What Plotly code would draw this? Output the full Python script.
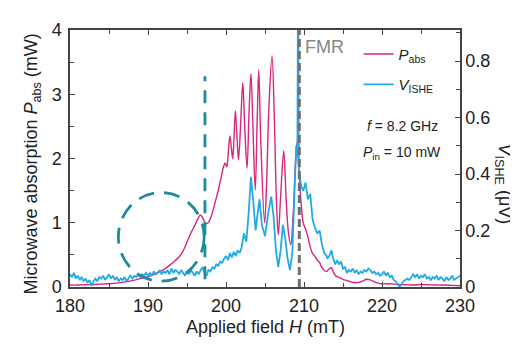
import numpy as np
import plotly.graph_objects as go

# ---------------- data ----------------
# Microwave absorption P_abs (mW) vs applied field H (mT)
H_abs = [180.0, 181, 182, 183, 184, 185, 186, 187, 188, 189, 190, 191, 192, 193, 194, 194.5,
         195, 195.5, 196, 196.4, 196.7, 197.0, 197.4, 197.7, 198.1, 198.5, 199.0, 199.4, 199.7,
         199.9, 200.1, 200.3, 200.5, 200.7, 200.85, 201.0, 201.2, 201.4, 201.6, 201.9, 202.15,
         202.4, 202.7, 202.95, 203.2, 203.45, 203.75, 204.0, 204.2, 204.45, 204.95, 205.2, 205.5,
         205.9, 206.2, 206.45, 206.7, 207.0, 207.4, 207.7, 208.0, 208.3, 208.6, 208.9, 209.1,
         209.3, 209.6, 209.9, 210.2, 210.5, 210.8, 211.1, 211.4, 211.7, 212.0, 212.3, 212.6,
         212.9, 213.2, 213.5, 213.8, 214.1, 214.5, 215, 215.5, 216, 216.5, 217, 217.5, 218,
         218.5, 219, 219.5, 220, 221, 222, 223, 224, 225, 226, 227, 228, 229, 230]
P_abs = [0.03, 0.03, 0.035, 0.04, 0.045, 0.05, 0.06, 0.08, 0.10, 0.13, 0.16, 0.21, 0.27, 0.36, 0.47, 0.56,
         0.70, 0.84, 0.96, 1.06, 1.12, 1.08, 0.99, 1.00, 1.10, 1.27, 1.50, 1.72, 1.88,
         1.93, 1.87, 2.10, 2.35, 2.15, 2.00, 2.25, 2.74, 2.35, 1.98, 2.60, 3.18,
         2.50, 1.85, 2.70, 3.32, 2.50, 1.51, 2.60, 3.38, 2.30, 1.00, 1.60, 2.80,
         3.60, 2.60, 1.40, 0.81, 1.40, 2.12, 1.40, 0.85, 0.66, 1.10, 1.90, 2.25,
         1.90, 1.35, 1.00, 0.90, 0.78, 0.62, 0.52, 0.48, 0.42, 0.38, 0.30, 0.26,
         0.24, 0.28, 0.30, 0.22, 0.17, 0.15, 0.12, 0.10, 0.08, 0.07, 0.07, 0.09, 0.12,
         0.11, 0.08, 0.06, 0.05, 0.05, 0.04, 0.035, 0.03, 0.04, 0.035, 0.03, 0.03, 0.025, 0.02]

# ISHE voltage V_ISHE (uV) vs H (mT)
H_v_base = list(np.arange(180.0, 202.001, 0.25))
V_base = [0.045,
          0.035, 0.05, 0.03, 0.04,
          0.025, 0.035, 0.02, 0.03,
          0.015, 0.025, 0.005, 0.02,
          0.03, 0.02, 0.035, 0.03,
          0.04, 0.025, 0.035, 0.045,
          0.03, 0.04, 0.025, 0.035,
          0.02, 0.03, 0.025, 0.035,
          0.02, 0.03, 0.04, 0.03,
          0.04, 0.035, 0.045, 0.035,
          0.045, 0.04, 0.05, 0.04,
          0.05, 0.04, 0.055, 0.045,
          0.05, 0.06, 0.045, 0.055,
          0.05, 0.06, 0.045, 0.065,
          0.05, 0.06, 0.055, 0.045,
          0.06, 0.05, 0.04, 0.055,
          0.045, 0.06, 0.05, 0.04,
          0.055, 0.045, 0.06, 0.07,
          0.05, 0.04, 0.06, 0.055,
          0.07, 0.065, 0.08, 0.075,
          0.09, 0.085, 0.10, 0.11,
          0.095, 0.12, 0.105, 0.125,
          0.11, 0.13, 0.12, 0.14]
H_v_mid = [202.3, 202.6, 202.9, 203.2, 203.5, 203.8, 204.05, 204.3, 204.6, 205.0, 205.4, 205.8,
           206.1, 206.4, 206.7, 207.0, 207.3, 207.6, 207.9, 208.2, 208.5, 208.8, 209.0, 209.15,
           209.25, 209.35, 209.6, 209.9, 210.2, 210.5, 210.8, 211.1, 211.4, 211.7, 212.0, 212.3,
           212.6, 212.9, 213.0]
V_mid = [0.19, 0.16, 0.26, 0.39, 0.30, 0.20, 0.26, 0.31, 0.22, 0.18, 0.26, 0.32,
         0.25, 0.13, 0.07, 0.13, 0.22, 0.17, 0.10, 0.06, 0.12, 0.32, 0.50, 0.46,
         1.20, 0.42, 0.36, 0.34, 0.37, 0.31, 0.33, 0.24, 0.21, 0.19, 0.20, 0.15,
         0.12, 0.11, 0.10]
H_v_tail = list(np.arange(213.25, 230.001, 0.25))
V_tail = [0.11, 0.13, 0.10, 0.08,
          0.095, 0.08, 0.09, 0.065,
          0.07, 0.05, 0.06, 0.055,
          0.065, 0.05, 0.06, 0.045,
          0.055, 0.05, 0.06, 0.055,
          0.065, 0.06, 0.05, 0.055,
          0.045, 0.05, 0.04, 0.045,
          0.055, 0.04, 0.05, 0.035,
          0.04, 0.025, 0.02, 0.01,
          0.0, 0.01, 0.02, 0.025,
          0.03, 0.025, 0.035, 0.045,
          0.035, 0.045, 0.03, 0.04,
          0.035, 0.045, 0.03, 0.035,
          0.025, 0.035, 0.03, 0.04,
          0.025, 0.035, 0.03, 0.02,
          0.035, 0.025, 0.03, 0.04,
          0.025, 0.03, 0.035, 0.04]
H_v = H_v_base + H_v_mid + H_v_tail
V_ishe = V_base + V_mid + V_tail

FMR_H = 209.4
guide_H = 197.3
circle_x = [186.2, 197.2]
circle_y = [0.09, 1.47]

MAGENTA = "#d6267f"
CYAN = "#22aae6"
TEAL = "#1d8a9e"
GRAY = "#6f6f6f"
FONT = "Liberation Sans, Arial, sans-serif"
AX = "#444444"

fig = go.Figure()
fig.add_trace(go.Scatter(x=H_abs, y=P_abs, mode="lines", name="<i>P</i><sub>abs</sub>",
                         line=dict(color=MAGENTA, width=1.4, shape="spline", smoothing=1.0),
                         legendgroup="a"))
fig.add_trace(go.Scatter(x=H_v, y=V_ishe, mode="lines", name="<i>V</i><sub>ISHE</sub>",
                         line=dict(color=CYAN, width=1.8), yaxis="y2", legendgroup="b"))

fig.add_shape(type="line", xref="x", yref="paper", x0=FMR_H, x1=FMR_H, y0=0, y1=1,
              line=dict(color=GRAY, width=3, dash="8px,4px"), layer="above")
fig.add_shape(type="line", xref="x", yref="y", x0=guide_H, x1=guide_H, y0=0.12, y1=3.28,
              line=dict(color=TEAL, width=2.8, dash="13px,9px"), layer="above")
fig.add_shape(type="circle", xref="x", yref="y", x0=circle_x[0], x1=circle_x[1],
              y0=circle_y[0], y1=circle_y[1],
              line=dict(color=TEAL, width=2.8, dash="16px,10px"), layer="above")

axis_common = dict(showline=True, linecolor=AX, linewidth=1.5, ticks="inside", ticklen=5,
                   tickcolor=AX, tickwidth=1.2, showgrid=False, zeroline=False,
                   tickfont=dict(family=FONT, size=18, color="#222222"))

fig.update_layout(
    width=518, height=344,
    margin=dict(l=62, r=66, t=22, b=65),
    paper_bgcolor="white", plot_bgcolor="white",
    font=dict(family=FONT, color="#222222"),
    xaxis=dict(range=[180, 230], dtick=10, tick0=180, mirror="ticks", ticklabelstandoff=2,
               minor=dict(dtick=5, ticks="inside", ticklen=4, tickcolor=AX, showgrid=False),
               **axis_common),
    yaxis=dict(range=[0, 4], dtick=1, ticklabelstandoff=3,
               minor=dict(dtick=0.5, ticks="inside", ticklen=4, tickcolor=AX, showgrid=False),
               **axis_common),
    yaxis2=dict(range=[0, 0.91], dtick=0.2, overlaying="y", side="right", ticklabelstandoff=0,
                minor=dict(dtick=0.1, ticks="inside", ticklen=4, tickcolor=AX, showgrid=False),
                **axis_common),
    showlegend=True,
    legend=dict(x=0.74, y=0.97, xanchor="left", yanchor="top", bgcolor="rgba(0,0,0,0)",
                font=dict(family=FONT, size=15, color="#222222"), tracegroupgap=8,
                itemwidth=30),
)

ann = [
    dict(text="Applied field <i>H</i> (mT)", xref="paper", yref="paper", x=0.5, y=-0.155,
         xanchor="center", yanchor="middle", showarrow=False, font=dict(size=18)),
    dict(text="Microwave absorption <i>P</i><sub>abs</sub> (mW)", xref="paper", yref="paper",
         x=-0.095, y=0.48, xanchor="center", yanchor="middle", textangle=-90, showarrow=False,
         font=dict(size=18)),
    dict(text="<i>V</i><sub>ISHE</sub> (μV)", xref="paper", yref="paper", x=1.112, y=0.4,
         xanchor="center", yanchor="middle", textangle=90, showarrow=False, font=dict(size=18)),
    dict(text="FMR", xref="x", yref="paper", x=209.9, y=0.935, xanchor="left", yanchor="middle",
         showarrow=False, font=dict(size=18, color="#858585")),
    dict(text="<i>f</i> = 8.2 GHz", xref="paper", yref="paper", x=0.852, y=0.625,
         xanchor="center", yanchor="middle", showarrow=False, font=dict(size=14)),
    dict(text="<i>P</i><sub>in</sub> = 10 mW", xref="paper", yref="paper", x=0.852, y=0.52,
         xanchor="center", yanchor="middle", showarrow=False, font=dict(size=14)),
]
fig.update_layout(annotations=ann)

fig.write_html("out.html")
